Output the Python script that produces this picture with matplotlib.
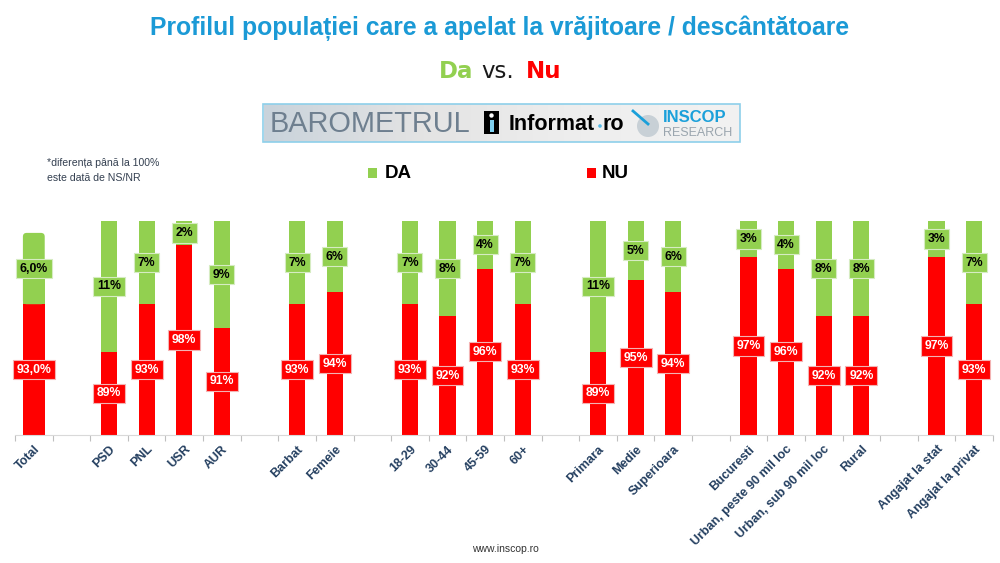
import numpy as np
import matplotlib
matplotlib.use("Agg")
import matplotlib.pyplot as plt
from matplotlib.patches import Rectangle, Circle, FancyBboxPatch

plt.rcParams['font.family'] = ['Liberation Sans', 'DejaVu Sans']

# ── Date ──────────────────────────────────────────────────────────
categories = ["Total",
              "PSD", "PNL", "USR", "AUR",
              "Barbat", "Femeie",
              "18-29", "30-44", "45-59", "60+",
              "Primara", "Medie", "Superioara",
              "Bucuresti", "Urban, peste 90 mil loc", "Urban, sub 90 mil loc", "Rural",
              "Angajat la stat", "Angajat la privat"]
group_sizes = [1, 4, 2, 4, 3, 4, 2]
da = [6.0, 11, 7, 2, 9, 7, 6, 7, 8, 4, 7, 11, 5, 6, 3, 4, 8, 8, 3, 7]
nu = [93.0, 89, 93, 98, 91, 93, 94, 93, 92, 96, 93, 89, 95, 94, 97, 96, 92, 92, 97, 93]
decimals = [1] + [0] * 19

GREEN = "#92D050"
RED = "#FF0000"
BLUE = "#1B9AD6"
LABEL_COL = "#243F60"

# pozitii: un slot gol intre grupuri
pos = []
x = 0
for g in group_sizes:
    for _ in range(g):
        pos.append(x)
        x += 1
    x += 1
pos = np.array(pos)
n_slots = pos[-1] + 1

def fmt(v, d):
    return (f"{v:.{d}f}%").replace(".", ",")

# ── Figura ────────────────────────────────────────────────────────
fig = plt.figure(figsize=(10, 5.63), dpi=100)

# strat de decor in coordonate pixel
ov = fig.add_axes([0, 0, 1, 1])
ov.set_xlim(0, 1000)
ov.set_ylim(563, 0)
ov.axis("off")

ov.text(500, 28, "Profilul populației care a apelat la vrăjitoare / descântătoare",
        ha="center", va="center", fontsize=17.8, fontweight="bold", color=BLUE)

ov.text(473, 71, "Da", ha="right", va="center", fontsize=16.5, fontweight="bold",
        color=GREEN, family="DejaVu Sans")
ov.text(498, 71, "vs.", ha="center", va="center", fontsize=16.5,
        color="#1a1a1a", family="DejaVu Sans")
ov.text(526, 71, "Nu", ha="left", va="center", fontsize=16.5, fontweight="bold",
        color=RED, family="DejaVu Sans")

# banner
grad = np.linspace(0, 1, 200).reshape(1, -1)
ov.imshow(grad, extent=(264, 740, 142, 104), cmap=matplotlib.colors.LinearSegmentedColormap.from_list(
    "g", ["#C9D3DB", "#E4E4E4", "#EEEEEE", "#F2F2F2"]), aspect="auto", zorder=1)
ov.add_patch(Rectangle((263, 103.5), 477, 38.5, fill=False, ec="#8ECFEA", lw=1.2, zorder=3))
ov.text(270, 124, "BAROMETRUL", ha="left", va="center", fontsize=20.8,
        color="#6E7F8F", zorder=4)
ov.add_patch(Rectangle((484, 111), 15, 23, fc="black", ec="none", zorder=4))
ov.add_patch(Circle((491.5, 115.5), 2.2, fc="white", ec="none", zorder=5))
ov.add_patch(Rectangle((489.5, 119.5), 4, 12, fc="#7FD0F0", ec="none", zorder=5))
ov.text(509, 124, "Informat", ha="left", va="center", fontsize=15.5,
        fontweight="bold", color="black", zorder=4)
ov.add_patch(Circle((600, 126), 1.8, fc="#55B9E6", ec="none", zorder=5))
ov.text(603, 124, "ro", ha="left", va="center", fontsize=15.5,
        fontweight="bold", color="black", zorder=4)
ov.add_patch(Circle((648, 126), 11, fc="#C8D0D6", ec="none", zorder=4))
ov.plot([633, 648], [111, 124], color="#1BA0DA", lw=2, zorder=5)
ov.text(663, 117, "INSCOP", ha="left", va="center", fontsize=12,
        fontweight="bold", color="#1BA0DA", zorder=4)
ov.text(663, 133, "RESEARCH", ha="left", va="center", fontsize=9,
        color="#9AA5AE", zorder=4)

# nota
ov.text(47, 163, "*diferența până la 100%", ha="left", va="center",
        fontsize=7.6, color="#333F50")
ov.text(47, 178, "este dată de NS/NR", ha="left", va="center",
        fontsize=7.6, color="#333F50")

# legenda
ov.add_patch(Rectangle((368, 168), 9, 10, fc=GREEN, ec="none"))
ov.text(385, 173, "DA", ha="left", va="center", fontsize=13.5,
        fontweight="bold", color="black")
ov.add_patch(Rectangle((587, 168), 9, 10, fc=RED, ec="none"))
ov.text(602, 173, "NU", ha="left", va="center", fontsize=13.5,
        fontweight="bold", color="black")

ov.text(505, 549, "www.inscop.ro", ha="center", va="center",
        fontsize=7.5, color="#333333")

# ── Grafic ────────────────────────────────────────────────────────
ymin = 82
ax = fig.add_axes([15 / 1000, 1 - 435 / 563, 978 / 1000, 214 / 563])
ax.patch.set_alpha(0)

widths = [0.58 if i == 0 else 0.43 for i in range(len(categories))]
ax.bar(pos, nu, width=widths, color=RED, ec="none")
ax.bar(pos[1:], da[1:], bottom=nu[1:], width=widths[1:], color=GREEN, ec="none")

# bara Total cu colturi rotunjite sus
px_x = 978 / n_slots
px_y = 214 / (100 - ymin)
w0 = widths[0]
ax.add_patch(FancyBboxPatch((pos[0] - w0 / 2, nu[0]), w0, da[0],
                            boxstyle="round,pad=0,rounding_size=0.1",
                            mutation_aspect=px_x / px_y, fc=GREEN, ec="none"))
ax.add_patch(Rectangle((pos[0] - w0 / 2, nu[0]), w0, da[0] / 2, fc=GREEN, ec="none"))

for x, d, n, dec in zip(pos, da, nu, decimals):
    ax.text(x, (ymin + n) / 2, fmt(n, dec), ha="center", va="center",
            fontsize=8.8, fontweight="bold", color="white", zorder=5,
            bbox=dict(boxstyle="square,pad=0.3", fc=RED, ec="#F3B3B3", lw=0.8))
    ax.text(x, n + d / 2, fmt(d, dec), ha="center", va="center",
            fontsize=8.8, fontweight="bold", color="black", zorder=5,
            bbox=dict(boxstyle="square,pad=0.3", fc=GREEN, ec="#D6ECC2", lw=0.8))

ax.set_xlim(-0.5, n_slots - 0.5)
ax.set_ylim(ymin, 100)
ax.set_xticks(pos)
ax.set_xticklabels(categories, rotation=45, ha="right", va="top",
                   rotation_mode="anchor", fontsize=9, fontweight="bold",
                   color=LABEL_COL)
ax.tick_params(axis="x", which="major", length=0, pad=6)
ax.set_xticks(np.arange(-0.5, n_slots, 1), minor=True)
ax.tick_params(axis="x", which="minor", length=4, color="#BFBFBF", width=0.8)
ax.set_yticks([])
for s in ["top", "right", "left"]:
    ax.spines[s].set_visible(False)
ax.spines["bottom"].set_color("#D9D9D9")

fig.savefig("out.png", dpi=100)
